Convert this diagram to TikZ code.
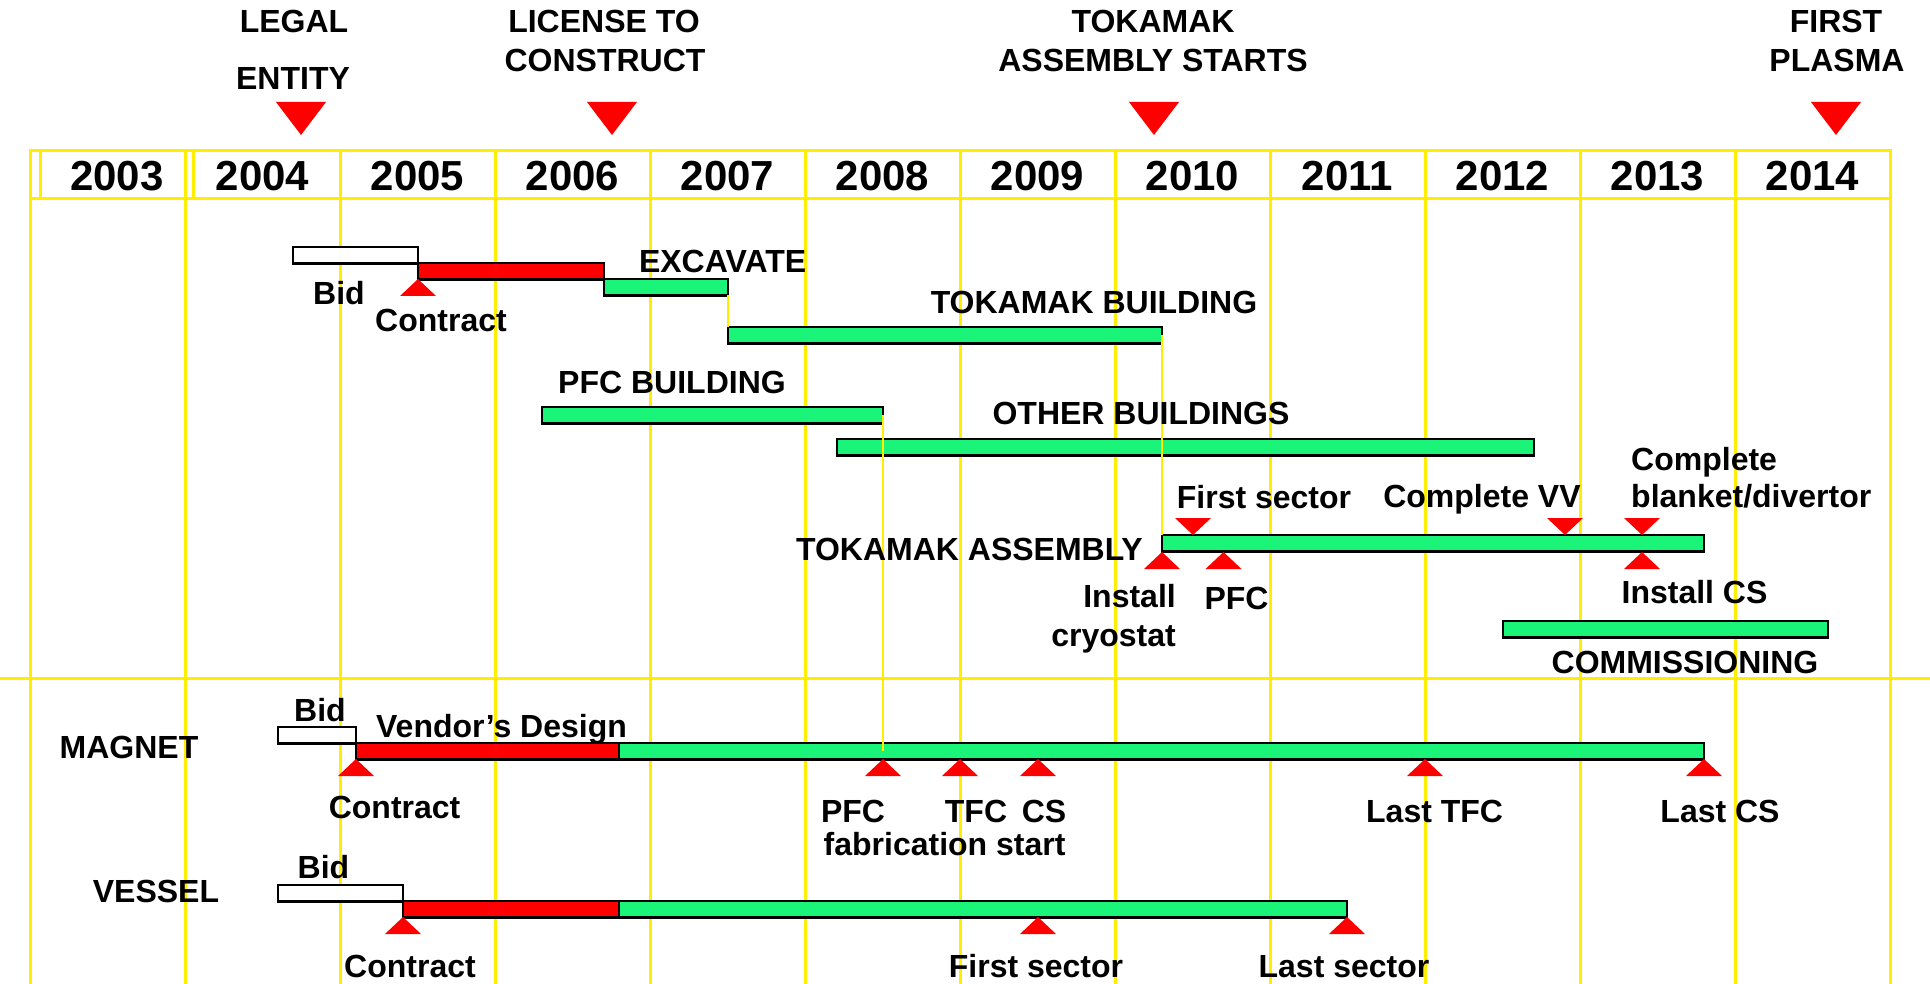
\documentclass[tikz,border=0pt]{standalone}
\usepackage{fontspec}
\setmainfont{Liberation Sans}
\definecolor{gyel}{RGB}{255,238,0}
\definecolor{ggreen}{RGB}{26,245,122}
\newcommand\ganttbar[5]{\node[#1, minimum width={#4pt-#3pt}] (#2) at (#3,#5) {};}
\newcommand\mileup[2]{\fill[red] (#1,#2) -- ++(-18,17) -- ++(36,0) -- cycle;}
\newcommand\miledn[2]{\fill[red] (#1,#2) -- ++(-18,-17) -- ++(36,0) -- cycle;}
\newcommand\bigdn[2]{\fill[red] (#1,#2) -- ++(-25,-33) -- ++(50,0) -- cycle;}
\begin{document}
\begin{tikzpicture}[x=1pt,y=-1pt,
  grid/.style={draw=gyel, line width=3pt},
  link/.style={draw=gyel, line width=1.6pt},
  bar/.style={draw=black, line width=2.2pt, minimum height=16.5pt, inner sep=0pt, outer sep=0pt, anchor=north west},
  gbar/.style={bar, fill=ggreen},
  rbar/.style={bar, fill=red},
  wbar/.style={bar, fill=white},
  lbl/.style={font=\fontsize{32}{36}\selectfont\bfseries, inner sep=0pt, text height=23pt, text depth=0pt},
  yr/.style={font=\fontsize{42}{46}\selectfont\bfseries, inner sep=0pt, text height=30pt, text depth=0pt},
]
\useasboundingbox (0,0) rectangle (1930,984);
\fill[white] (0,0) rectangle (1930,984);
% grid
\foreach \gx in {30,185,340,495,650,805,960,1115,1270,1425,1580,1735,1890}
  \draw[grid] (\gx,151) -- (\gx,984);
\draw[grid] (40,151) -- (40,199);
\draw[grid] (193,151) -- (193,199);
\draw[grid] (28.5,151) -- (1891.5,151);
\draw[grid] (28.5,199) -- (1891.5,199);
\draw[grid] (0,678) -- (1930,678);
% years
\node[yr] (y2003) at (117,176) {2003};
\foreach \yy [count=\k from 0] in {2004,2005,2006,2007,2008,2009,2010,2011,2012,2013,2014}
  \node[yr] (y\yy) at (262.5+155*\k,176) {\yy};
% top milestones
\node[lbl] (legal) at (294,21) {LEGAL};
\node[lbl] (entity) at (293,78) {ENTITY};
\node[lbl] (lic) at (604,21) {LICENSE TO};
\node[lbl] (cons) at (605,60) {CONSTRUCT};
\node[lbl] (tok) at (1153,21) {TOKAMAK};
\node[lbl] (ass) at (1153,60) {ASSEMBLY STARTS};
\node[lbl] (first) at (1836,21) {FIRST};
\node[lbl] (plasma) at (1837,60) {PLASMA};
\bigdn{301}{135}
\bigdn{612}{135}
\bigdn{1154}{135}
\bigdn{1836}{135}
% bars, top section
\ganttbar{wbar}{bidT}{293}{418}{247}
\ganttbar{rbar}{desT}{418}{604}{263}
\ganttbar{gbar}{exc}{604}{728}{279}
\ganttbar{gbar}{tkb}{728}{1162}{327}
\ganttbar{gbar}{pfcb}{542}{883}{407}
\ganttbar{gbar}{oth}{837}{1534}{439}
\ganttbar{gbar}{tka}{1162}{1704}{535}
\ganttbar{gbar}{com}{1503}{1828}{621}
% magnet
\ganttbar{wbar}{bidM}{278}{356}{727}
\ganttbar{rbar}{desM}{356}{619}{743}
\ganttbar{gbar}{fabM}{619}{1704}{743}
% vessel
\ganttbar{wbar}{bidV}{278}{403}{885}
\ganttbar{rbar}{desV}{403}{619}{901}
\ganttbar{gbar}{fabV}{619}{1347}{901}
% links
\draw[link] (exc.south east) -- (tkb.north west);
\draw[link] (tkb.east) -- (tka.north west);
\draw[link] (pfcb.east) -- (pfcb.east |- fabM.center);
% small milestones
\mileup{418}{279}
\miledn{1193}{535}
\miledn{1565}{535}
\miledn{1642}{535}
\mileup{1162}{552}
\mileup{1223.5}{552}
\mileup{1642}{552}
\mileup{356}{759}
\mileup{883}{759}
\mileup{960}{759}
\mileup{1038}{759}
\mileup{1425}{759}
\mileup{1704}{759}
\mileup{403}{917}
\mileup{1038}{917}
\mileup{1347}{917}
% labels top section
\node[lbl] (lbidT) at (339,293) {Bid};
\node[lbl] (lconT) at (441,320) {Contract};
\node[lbl] (lexc) at (722.6,261) {EXCAVATE};
\node[lbl] (ltkb) at (1094,302) {TOKAMAK BUILDING};
\node[lbl] (lpfcb) at (672,382) {PFC BUILDING};
\node[lbl] (loth) at (1141,413) {OTHER BUILDINGS};
\node[lbl] (lfs) at (1264,497) {First sector};
\node[lbl] (lvv) at (1482,496) {Complete VV};
\node[lbl, anchor=west] (lcb1) at (1631,459) {Complete};
\node[lbl, anchor=west] (lcb2) at (1631,496) {blanket/divertor};
\node[lbl, anchor=east] (ltka) at (1143,549) {TOKAMAK ASSEMBLY};
\node[lbl, anchor=east] (lins1) at (1176,596) {Install};
\node[lbl, anchor=east] (lins2) at (1176,635) {cryostat};
\node[lbl] (lpfc) at (1236.5,598) {PFC};
\node[lbl] (lics) at (1694.5,592) {Install CS};
\node[lbl] (lcom) at (1685,662) {COMMISSIONING};
% labels magnet
\node[lbl] (lmag) at (129,747) {MAGNET};
\node[lbl] (lbidM) at (320,710) {Bid};
\node[lbl] (lven) at (501.5,726) {Vendor’s Design};
\node[lbl] (lconM) at (394.6,807) {Contract};
\node[lbl] (lpfcf) at (853,811) {PFC};
\node[lbl] (ltfcf) at (976,811) {TFC};
\node[lbl] (lcsf) at (1044,811) {CS};
\node[lbl] (lfab) at (944.6,844) {fabrication start};
\node[lbl] (lltfc) at (1434.6,811) {Last TFC};
\node[lbl] (llcs) at (1720,811) {Last CS};
% labels vessel
\node[lbl] (lves) at (156,891) {VESSEL};
\node[lbl] (lbidV) at (323.5,867) {Bid};
\node[lbl] (lconV) at (410,966) {Contract};
\node[lbl] (lfsV) at (1036,966) {First sector};
\node[lbl] (llsV) at (1344,966) {Last sector};
\end{tikzpicture}
\end{document}
